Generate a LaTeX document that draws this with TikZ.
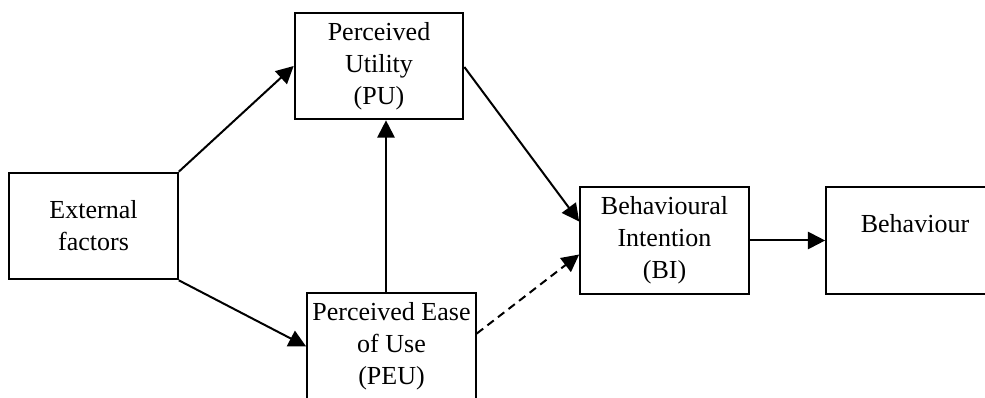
\documentclass[tikz,border=0pt]{standalone}
\usepackage{fontspec}
\setmainfont{Liberation Serif}
\usetikzlibrary{arrows.meta,calc}
\begin{document}
\begin{tikzpicture}[x=0.75pt,y=-0.75pt,
  box/.style={draw, line width=1.5pt, rectangle, minimum width=126.5pt, minimum height=80pt, inner sep=2pt, align=center, font=\fontsize{19.5}{24}\selectfont},
  arr/.style={line width=1.5pt, -{Triangle[length=13pt,width=13pt]}},
  dasharr/.style={arr, dash pattern=on 6pt off 4pt}]
\useasboundingbox (0,0) rectangle (985,398);
\begin{scope}
\clip (0,0) rectangle (985,398);
\node[box] (EF) at (93.5,226) {External\\factors};
\node[box] (PU) at (379,66) {Perceived\\Utility\\(PU)};
\node[box] (PEU) at (391.5,346.5) {Perceived Ease\\of Use\\(PEU)};
\node[box] (BI) at (664.5,240.5) {Behavioural\\Intention\\(BI)};
\node[box] (B) at (910.5,240.5) {};
\node[anchor=base, inner sep=0pt, font=\fontsize{19.5}{24}\selectfont] (Btxt) at (915,233) {Behaviour};
\coordinate (vx) at (386,0);
\draw[arr] (EF.north east) -- (PU.west);
\draw[arr] (EF.south east) -- (PEU.west);
\draw[arr] (PEU.north -| vx) -- (PU.south -| vx);
\draw[arr] ($(PU.east)+(0,1)$) -- ($(BI.west)+(0,-19)$);
\draw[dasharr] ($(PEU.east)+(0,-13)$) -- ($(BI.west)+(0,14)$);
\draw[arr] (BI.east) -- (B.west);
\end{scope}
\end{tikzpicture}
\end{document}
